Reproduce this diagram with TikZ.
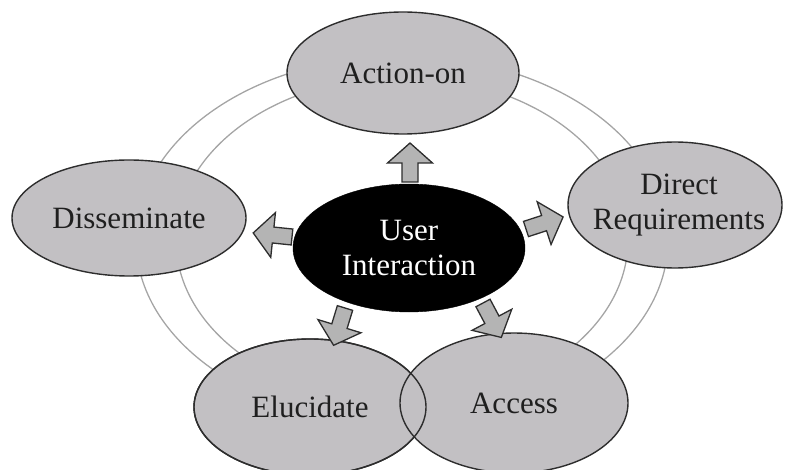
\documentclass[tikz,border=0pt]{standalone}
\usepackage{fontspec}
\setmainfont{Liberation Serif}
\usetikzlibrary{shapes.geometric}
\definecolor{bubblefill}{RGB}{194,192,195}
\definecolor{arrowfill}{RGB}{180,180,180}
\definecolor{rimcolor}{RGB}{45,45,45}
\definecolor{ringcolor}{RGB}{165,165,165}
\tikzset{
  bubble/.style={ellipse, draw=rimcolor, line width=1.4pt, fill=bubblefill, inner sep=0pt},
  rim/.style={ellipse, draw=rimcolor, line width=1.4pt, inner sep=0pt},
  caption/.style={align=center, text=black!88, font=\fontsize{31}{35}\selectfont},
  hub/.style={ellipse, draw=black, fill=black, inner sep=0pt},
  hubcaption/.style={align=center, text=white, font=\fontsize{31}{35}\selectfont},
  ring/.style={draw=ringcolor, line width=1.3pt},
  blockarrow/.pic={
    \draw[draw=rimcolor, line width=1.3pt, fill=arrowfill, line join=miter]
      (0,-8) -- (19,-8) -- (19,-22.5) -- (39,0) -- (19,22.5) -- (19,8) -- (0,8) -- cycle;
  }
}
\begin{document}
\begin{tikzpicture}[x=1pt,y=-1pt]
\useasboundingbox (0,0) rectangle (792,470);

% two concentric rings behind the cycle
\coordinate (ringc) at (402,240);
\draw[ring] (ringc) ellipse [x radius=266, y radius=184];
\draw[ring] (ringc) ellipse [x radius=226, y radius=163];

% outer stages
\node[bubble, minimum width=232pt, minimum height=122pt] (act) at (403,73) {};
\node[bubble, minimum width=214pt, minimum height=126pt] (req) at (675,205) {};
\node[bubble, minimum width=234pt, minimum height=116pt] (dis) at (129,218) {};
\node[bubble, minimum width=232pt, minimum height=136pt] (elu) at (310,407) {};
\node[bubble, minimum width=228pt, minimum height=140pt] (acc) at (514,403) {};
% outline of Elucidate drawn again across the overlap
\node[rim, minimum width=232pt, minimum height=136pt] (elurim) at (elu.center) {};

\node[caption] (acttext) at (act.center) {Action-on};
\node[caption] (reqtext) at ([xshift=4pt]req.center) {Direct\\Requirements};
\node[caption] (distext) at (dis.center) {Disseminate};
\node[caption] (elutext) at (elu.center) {Elucidate};
\node[caption] (acctext) at (acc.center) {Access};

% centre
\node[hub, minimum width=232pt, minimum height=128pt] (hub) at (409,248) {};
\node[hubcaption] (hubtext) at (hub.center) {User\\Interaction};

% block arrows leaving the centre
\coordinate (aup) at (410,182);
\coordinate (aleft) at (292,237);
\coordinate (aright) at (526,229);
\coordinate (adl) at (345,308);
\coordinate (adr) at (483,303);
\pic[rotate=90] at (aup) {blockarrow};
\pic[rotate=174] at (aleft) {blockarrow};
\pic[rotate=18] at (aright) {blockarrow};
\pic[rotate=253] at (adl) {blockarrow};
\pic[rotate=-62] at (adr) {blockarrow};
\end{tikzpicture}
\end{document}
